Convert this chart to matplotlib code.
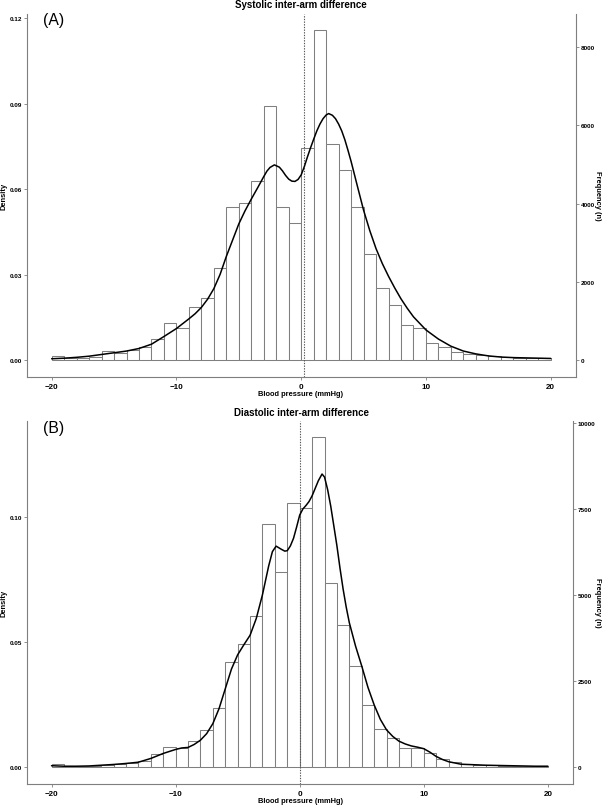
import matplotlib
matplotlib.use("Agg")
import matplotlib.pyplot as plt
from matplotlib.ticker import FixedLocator, FormatStrFormatter

plt.rcParams['font.family'] = ['Liberation Sans', 'DejaVu Sans']

# ---------------- data ----------------
bin_edges = list(range(-20, 21))

sys_density = [0.0017, 0.0008, 0.0010, 0.0013, 0.0032, 0.0027, 0.0035, 0.0047,
               0.0074, 0.0132, 0.0113, 0.0187, 0.0219, 0.0323, 0.0537, 0.0551,
               0.0630, 0.0891, 0.0540, 0.0481, 0.0744, 0.1159, 0.0761, 0.0668,
               0.0537, 0.0372, 0.0255, 0.0196, 0.0125, 0.0113, 0.0062, 0.0046,
               0.0028, 0.0022, 0.0020, 0.0015, 0.0012, 0.0010, 0.0009, 0.0007]

dia_density = [0.0013, 0.0005, 0.0005, 0.0005, 0.0011, 0.0013, 0.0017, 0.0025,
               0.0052, 0.0082, 0.0076, 0.0105, 0.0149, 0.0239, 0.0421, 0.0494,
               0.0603, 0.0974, 0.0781, 0.1057, 0.1035, 0.1319, 0.0735, 0.0568,
               0.0407, 0.0251, 0.0155, 0.0118, 0.0078, 0.0078, 0.0058, 0.0032,
               0.0020, 0.0015, 0.0011, 0.0009, 0.0007, 0.0005, 0.0005, 0.0005]

sys_kde_x = [-20, -19, -18, -17, -16, -15, -14, -13, -12, -11, -10, -9, -8.5, -8,
             -7.5, -7, -6.5, -6, -5.5, -5, -4.5, -4, -3.5, -3, -2.75, -2.5, -2.15,
             -1.75, -1.5, -1.25, -1, -0.75, -0.5, -0.25, 0, 0.25, 0.5, 0.75, 1,
             1.25, 1.5, 1.75, 2, 2.2, 2.5, 2.75, 3, 3.25, 3.5, 3.75, 4, 4.5, 5,
             5.5, 6, 6.5, 7, 7.5, 8, 8.5, 9, 10, 11, 12, 13, 14, 15, 16, 17, 18,
             19, 20]
sys_kde_y = [0.0006, 0.0008, 0.0011, 0.0015, 0.0021, 0.0027, 0.0033, 0.0042,
             0.0057, 0.0084, 0.0112, 0.0146, 0.0164, 0.0186, 0.0215, 0.0252,
             0.0302, 0.0365, 0.0422, 0.0479, 0.0525, 0.0566, 0.0605, 0.0645,
             0.0664, 0.0677, 0.0686, 0.0678, 0.0665, 0.0649, 0.0636, 0.0629,
             0.0628, 0.0635, 0.0651, 0.0680, 0.0714, 0.0746, 0.0776, 0.0805,
             0.0829, 0.0848, 0.0861, 0.0866, 0.0860, 0.0848, 0.0829, 0.0805,
             0.0774, 0.0737, 0.0698, 0.0612, 0.0527, 0.0455, 0.0392, 0.0340,
             0.0295, 0.0254, 0.0216, 0.0183, 0.0153, 0.0107, 0.0075, 0.0050,
             0.0033, 0.0023, 0.0016, 0.0012, 0.0010, 0.0009, 0.0008, 0.0007]

dia_kde_x = [-20, -19, -18, -17, -16, -15, -14, -13, -12, -11, -10, -9.5, -9,
             -8.5, -8, -7.5, -7, -6.5, -6, -5.5, -5, -4.5, -4, -3.5, -3, -2.5,
             -2.2, -1.9, -1.5, -1.2, -1, -0.75, -0.5, -0.25, 0, 0.25, 0.5, 0.75,
             1, 1.25, 1.5, 1.8, 2, 2.25, 2.5, 2.75, 3, 3.25, 3.5, 3.75, 4, 4.5,
             5, 5.5, 6, 6.5, 7, 7.5, 8, 8.5, 9, 9.5, 10, 10.5, 11, 11.5, 12, 13,
             14, 15, 16, 17, 18, 19, 20]
dia_kde_y = [0.0007, 0.0005, 0.0005, 0.0006, 0.0009, 0.0012, 0.0016, 0.0021,
             0.0036, 0.0056, 0.0072, 0.0078, 0.0080, 0.0092, 0.0109, 0.0135,
             0.0175, 0.0235, 0.0314, 0.0393, 0.0450, 0.0490, 0.0528, 0.0595,
             0.0690, 0.0805, 0.0862, 0.0884, 0.0872, 0.0864, 0.0866, 0.0885,
             0.0915, 0.0960, 0.1008, 0.1032, 0.1046, 0.1062, 0.1085, 0.1115,
             0.1145, 0.1172, 0.1160, 0.1110, 0.1044, 0.0965, 0.0885, 0.0795,
             0.0712, 0.0640, 0.0578, 0.0485, 0.0405, 0.0320, 0.0250, 0.0192,
             0.0150, 0.0124, 0.0105, 0.0094, 0.0086, 0.0081, 0.0075, 0.0061,
             0.0044, 0.0032, 0.0023, 0.0013, 0.0011, 0.0009, 0.0008, 0.0007,
             0.0006, 0.0005, 0.0005]

n_total = 72700
sys_ref_line = 0.2
dia_ref_line = 0.0

x_ticks = [-20, -10, 0, 10, 20]
sys_density_ticks = [0.00, 0.03, 0.06, 0.09, 0.12]
sys_freq_ticks = [0, 2000, 4000, 6000, 8000]
dia_density_ticks = [0.00, 0.05, 0.10]
dia_freq_ticks = [0, 2500, 5000, 7500, 10000]

titles = ["Systolic inter-arm difference", "Diastolic inter-arm difference"]
panel_tags = ["(A)", "(B)"]
x_label = "Blood pressure (mmHg)"
y_label = "Density"
y2_label = "Frequency (n)"

# ---------------- figure ----------------
W, H = 602, 812
fig = plt.figure(figsize=(W / 100, H / 100), dpi=100)

GREY = '#7f7f7f'


def fx(px):
    return px / W


def fy(py):
    return 1 - py / H


panels = [
    dict(rect=[fx(26.7), fy(378), fx(575.7 - 26.7), (378 - 14.5) / H],
         dens=sys_density, kx=sys_kde_x, ky=sys_kde_y, ref=sys_ref_line,
         dt=sys_density_ticks, ft=sys_freq_ticks, fmt='%.2f', ylim=(-0.0058, 0.1217),
         title_y=5.5, tag_y=12.5, top=14.5, bottom=378, right=575.7),
    dict(rect=[fx(26.7), fy(785), fx(572.7 - 26.7), (785 - 421.7) / H],
         dens=dia_density, kx=dia_kde_x, ky=dia_kde_y, ref=dia_ref_line,
         dt=dia_density_ticks, ft=dia_freq_ticks, fmt='%.2f', ylim=(-0.0066, 0.1385),
         title_y=413, tag_y=421.5, top=421.7, bottom=785, right=572.7),
]

for i, p in enumerate(panels):
    ax = fig.add_axes(p['rect'])
    ax.bar(bin_edges[:-1], p['dens'], width=1, align='edge', facecolor='white',
           edgecolor=GREY, linewidth=0.75, zorder=2)
    ax.axvline(p['ref'], color='#555555', linestyle=(0, (1.2, 1.2)), linewidth=0.8, zorder=3)
    ax.plot(p['kx'], p['ky'], color='black', linewidth=1.1, zorder=4,
            solid_joinstyle='round', solid_capstyle='round')
    ax.set_xlim(-22, 22)
    ax.set_ylim(*p['ylim'])

    for s in ['top', 'right']:
        ax.spines[s].set_visible(False)
    for s in ['left', 'bottom']:
        ax.spines[s].set_color(GREY)
        ax.spines[s].set_linewidth(0.8)

    ax.xaxis.set_major_locator(FixedLocator(x_ticks))
    ax.yaxis.set_major_locator(FixedLocator(p['dt']))
    ax.yaxis.set_major_formatter(FormatStrFormatter(p['fmt']))
    ax.tick_params(axis='x', length=2, width=0.6, color=GREY, pad=2,
                   labelsize=5.8)
    ax.tick_params(axis='y', length=2, width=0.6, color=GREY, pad=1.5,
                   labelsize=4.6)
    for lab in ax.get_xticklabels() + ax.get_yticklabels():
        lab.set_fontweight('bold')

    sec = ax.secondary_yaxis('right', functions=(lambda d: d * n_total,
                                                 lambda f: f / n_total))
    sec.yaxis.set_major_locator(FixedLocator(p['ft']))
    sec.yaxis.set_major_formatter(FormatStrFormatter('%d'))
    sec.spines['right'].set_color(GREY)
    sec.spines['right'].set_linewidth(0.8)
    sec.tick_params(axis='y', length=2, width=0.6, color=GREY, pad=1.5,
                    labelsize=4.6)
    for lab in sec.get_yticklabels():
        lab.set_fontweight('bold')

    mid_y = (p['top'] + p['bottom']) / 2
    fig.text(fx(301), fy(p['title_y']), titles[i], ha='center', va='center',
             fontsize=7, fontweight='bold')
    fig.text(fx(43), fy(p['tag_y']), panel_tags[i], ha='left', va='top',
             fontsize=11.3)
    fig.text(fx(301), fy(p['bottom'] + 17), x_label, ha='center', va='center',
             fontsize=5.4, fontweight='bold')
    fig.text(fx(4), fy(mid_y), y_label, ha='center', va='center', rotation=90,
             fontsize=5.4, fontweight='bold')
    fig.text(fx(597), fy(mid_y), y2_label, ha='center', va='center', rotation=270,
             fontsize=5.4, fontweight='bold')

fig.savefig('out.png', dpi=100)
